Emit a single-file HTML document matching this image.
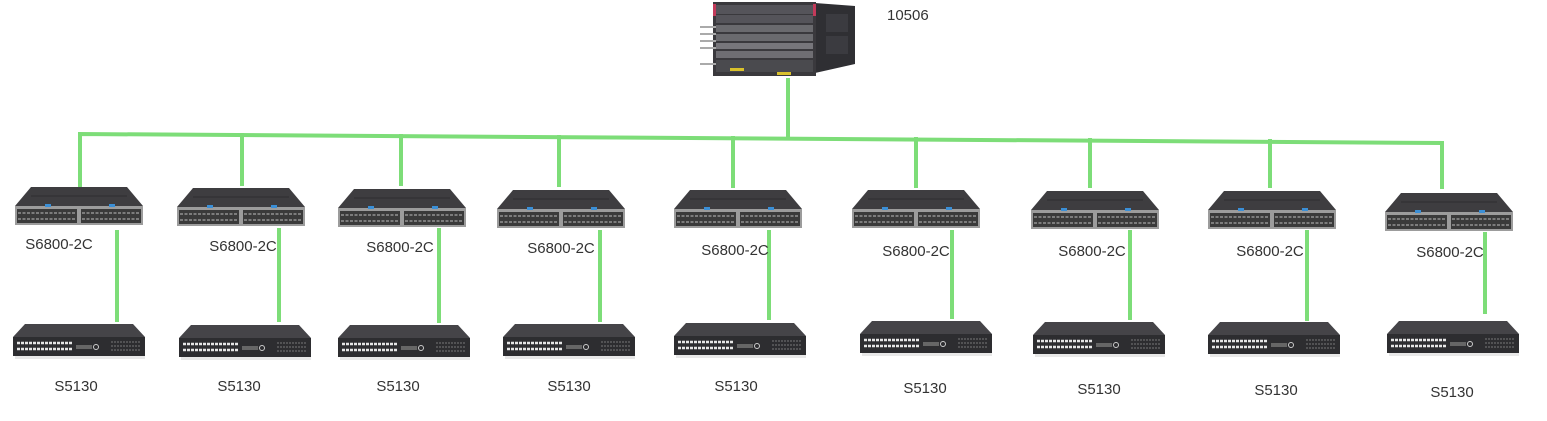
<!DOCTYPE html>
<html><head><meta charset="utf-8"><style>
html,body{margin:0;padding:0;background:#fff;}
svg{display:block;}
text{font-family:"Liberation Sans","Noto Sans CJK SC",sans-serif;fill:#333;font-size:15px;}
</style></head><body>
<svg width="1547" height="421" viewBox="0 0 1547 421" xmlns="http://www.w3.org/2000/svg">
<defs>
  <g id="s68">
    <polygon points="0,19 16,0 112,0 128,19" fill="#3e3d40"/>
    <line x1="16" y1="9" x2="112" y2="9" stroke="#2e2d30" stroke-width="1"/>
    <rect x="0" y="19" width="128" height="19" fill="#9c9c9c"/>
    <rect x="2" y="22" width="60" height="14" fill="#3a3a3a"/>
    <rect x="66" y="22" width="60" height="14" fill="#3a3a3a"/>
    <g stroke="#bdbdbd" stroke-width="1">
      <line x1="3" y1="26" x2="61" y2="26" stroke-dasharray="3,1.5"/>
      <line x1="3" y1="32" x2="61" y2="32" stroke-dasharray="3,1.5"/>
      <line x1="67" y1="26" x2="125" y2="26" stroke-dasharray="3,1.5"/>
      <line x1="67" y1="32" x2="125" y2="32" stroke-dasharray="3,1.5"/>
    </g>
    <rect x="30" y="17" width="6" height="3" fill="#3b8fd6"/>
    <rect x="94" y="17" width="6" height="3" fill="#3b8fd6"/>
  </g>
  <g id="s51">
    <polygon points="0,13 12,0 120,0 132,13" fill="#454448"/>
    <rect x="0" y="13" width="132" height="19" fill="#2d2d30"/>
    <rect x="2" y="32" width="130" height="3" fill="#d8d8d8" opacity="0.6"/>
    <g stroke="#e6e6e6" stroke-width="2.5">
      <line x1="4" y1="19" x2="60" y2="19" stroke-dasharray="3,1"/>
      <line x1="4" y1="25" x2="60" y2="25" stroke-dasharray="3,1"/>
    </g>
    <rect x="63" y="21" width="16" height="4" fill="#666"/>
    <circle cx="83" cy="23" r="2.5" fill="none" stroke="#ccc" stroke-width="1"/>
    <g stroke="#777" stroke-width="1">
      <line x1="98" y1="18" x2="128" y2="18" stroke-dasharray="2,1"/>
      <line x1="98" y1="22" x2="128" y2="22" stroke-dasharray="2,1"/>
      <line x1="98" y1="26" x2="128" y2="26" stroke-dasharray="2,1"/>
    </g>
  </g>
</defs>

<!-- chassis 10506 -->
<g>
  <polygon points="815,3 855,6 855,64 815,73" fill="#2f2f33"/>
  <rect x="826" y="14" width="22" height="18" fill="#3b3b40"/>
  <rect x="826" y="36" width="22" height="18" fill="#3b3b40"/>
  <rect x="713" y="2" width="103" height="74" fill="#3a393d"/>
  <rect x="716" y="5" width="97" height="9" fill="#55545a"/>
  <rect x="716" y="15" width="97" height="8" fill="#55545a"/>
  <rect x="716" y="25" width="97" height="7" fill="#6a6a6e"/>
  <rect x="716" y="34" width="97" height="7" fill="#6a6a6e"/>
  <rect x="716" y="43" width="97" height="6" fill="#77767b"/>
  <rect x="716" y="51" width="97" height="7" fill="#6f6e73"/>
  <rect x="716" y="60" width="97" height="12" fill="#4a4a4e"/>
  <rect x="730" y="68" width="14" height="3" fill="#d9c12b"/>
  <rect x="777" y="72" width="14" height="3" fill="#d9c12b"/>
  <g stroke="#aaa" stroke-width="2">
    <line x1="700" y1="27" x2="716" y2="27"/><line x1="700" y1="34" x2="716" y2="34"/>
    <line x1="700" y1="41" x2="716" y2="41"/><line x1="700" y1="48" x2="716" y2="48"/>
    <line x1="700" y1="64" x2="716" y2="64"/>
  </g>
  <rect x="713" y="4" width="3" height="12" fill="#c33a5a"/>
  <rect x="813" y="4" width="3" height="12" fill="#c33a5a"/>
</g>
<text x="887" y="20">10506</text>

<!-- connectors -->
<g stroke="#7ddd78" stroke-width="4" fill="none" stroke-linecap="square">
  <line x1="788" y1="80" x2="788" y2="136"/>
  <polyline points="80,185 80,134 1442,143 1442,187"/>
  <line x1="242" y1="135" x2="242" y2="184"/>
  <line x1="401" y1="136" x2="401" y2="184"/>
  <line x1="559" y1="137" x2="559" y2="185"/>
  <line x1="733" y1="138" x2="733" y2="186"/>
  <line x1="916" y1="139" x2="916" y2="186"/>
  <line x1="1090" y1="140" x2="1090" y2="186"/>
  <line x1="1270" y1="141" x2="1270" y2="186"/>
  <line x1="117" y1="232" x2="117" y2="320"/>
  <line x1="279" y1="230" x2="279" y2="320"/>
  <line x1="439" y1="230" x2="439" y2="321"/>
  <line x1="600" y1="232" x2="600" y2="320"/>
  <line x1="769" y1="232" x2="769" y2="318"/>
  <line x1="952" y1="232" x2="952" y2="317"/>
  <line x1="1130" y1="232" x2="1130" y2="318"/>
  <line x1="1307" y1="232" x2="1307" y2="319"/>
  <line x1="1485" y1="234" x2="1485" y2="312"/>
</g>

<!-- S6800 switches -->
<use href="#s68" x="15" y="187"/>
<use href="#s68" x="177" y="188"/>
<use href="#s68" x="338" y="189"/>
<use href="#s68" x="497" y="190"/>
<use href="#s68" x="674" y="190"/>
<use href="#s68" x="852" y="190"/>
<use href="#s68" x="1031" y="191"/>
<use href="#s68" x="1208" y="191"/>
<use href="#s68" x="1385" y="193"/>

<g text-anchor="middle">
<text x="59" y="249">S6800-2C</text>
<text x="243" y="251">S6800-2C</text>
<text x="400" y="252">S6800-2C</text>
<text x="561" y="253">S6800-2C</text>
<text x="735" y="255">S6800-2C</text>
<text x="916" y="256">S6800-2C</text>
<text x="1092" y="256">S6800-2C</text>
<text x="1270" y="256">S6800-2C</text>
<text x="1450" y="257">S6800-2C</text>
</g>

<!-- S5130 switches -->
<use href="#s51" x="13" y="324"/>
<use href="#s51" x="179" y="325"/>
<use href="#s51" x="338" y="325"/>
<use href="#s51" x="503" y="324"/>
<use href="#s51" x="674" y="323"/>
<use href="#s51" x="860" y="321"/>
<use href="#s51" x="1033" y="322"/>
<use href="#s51" x="1208" y="322"/>
<use href="#s51" x="1387" y="321"/>

<g text-anchor="middle">
<text x="76" y="391">S5130</text>
<text x="239" y="391">S5130</text>
<text x="398" y="391">S5130</text>
<text x="569" y="391">S5130</text>
<text x="736" y="391">S5130</text>
<text x="925" y="393">S5130</text>
<text x="1099" y="394">S5130</text>
<text x="1276" y="395">S5130</text>
<text x="1452" y="397">S5130</text>
</g>
</svg>
</body></html>
